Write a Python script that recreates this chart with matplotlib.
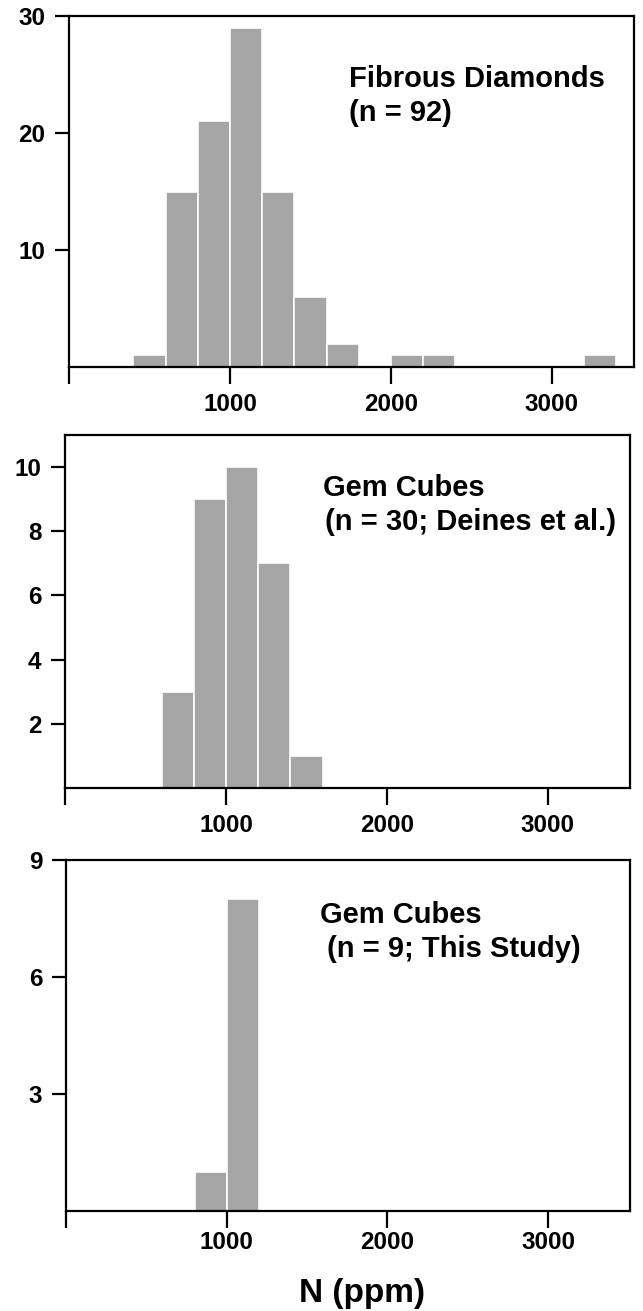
import matplotlib.pyplot as plt

plt.rcParams['font.family'] = ['Liberation Sans', 'DejaVu Sans']
plt.rcParams['font.weight'] = 'bold'

# bin left edges (ppm) and counts
bin_width = 200
fibrous_bins = [400, 600, 800, 1000, 1200, 1400, 1600, 2000, 2200, 3200]
fibrous_counts = [1, 15, 21, 29, 15, 6, 2, 1, 1, 1]
deines_bins = [600, 800, 1000, 1200, 1400]
deines_counts = [3, 9, 10, 7, 1]
study_bins = [800, 1000]
study_counts = [1, 8]

x_ticks = [0, 1000, 2000, 3000]
x_ticklabels = ['', '1000', '2000', '3000']

titles = ['Fibrous Diamonds', 'Gem Cubes', 'Gem Cubes']
subtitles = ['(n = 92)', '(n = 30; Deines et al.)', '(n = 9; This Study)']

# panel layout in pixels: left, right, top, bottom
W, H = 643, 1311
boxes = [(69, 634, 16, 367), (65, 630, 435, 788), (66, 630, 860, 1211)]
# label placement (axes fraction): x1, y1 baseline, x2, y2 baseline
label_pos = [(0.495, 0.798, 0.495, 0.701),
             (0.457, 0.827, 0.460, 0.731),
             (0.450, 0.821, 0.463, 0.724)]
ytick_sets = [[10, 20, 30], [2, 4, 6, 8, 10], [3, 6, 9]]
ymaxes = [30, 11, 9]
xpads = [6.5, 6.5, 2.5]
data = [(fibrous_bins, fibrous_counts), (deines_bins, deines_counts),
        (study_bins, study_counts)]

fig = plt.figure(figsize=(W / 100, H / 100), dpi=100)

for i, (bins, counts) in enumerate(data):
    l, r, t, b = boxes[i]
    ax = fig.add_axes([l / W, 1 - b / H, (r - l) / W, (b - t) / H])
    ax.bar(bins, counts, width=bin_width, align='edge', color='#a5a5a5',
           edgecolor='white', linewidth=1.2, zorder=2)
    ax.set_xlim(0, 3510)
    ax.set_ylim(0, ymaxes[i])
    ax.set_yticks(ytick_sets[i])
    ax.set_xticks(x_ticks)
    ax.set_xticklabels(x_ticklabels)
    for s in ax.spines.values():
        s.set_linewidth(1.6)
    ax.tick_params(axis='y', direction='out', length=10, width=1.6, pad=7, labelsize=17.5)
    ax.tick_params(axis='x', direction='out', length=12, width=1.6, pad=xpads[i], labelsize=17.5)
    for lab in ax.get_xticklabels() + ax.get_yticklabels():
        lab.set_fontweight('bold')
    x1, y1, x2, y2 = label_pos[i]
    ax.text(x1, y1, titles[i], transform=ax.transAxes, ha='left', va='baseline',
            fontsize=21, fontweight='bold')
    ax.text(x2, y2, subtitles[i], transform=ax.transAxes, ha='left', va='baseline',
            fontsize=21, fontweight='bold')

fig.text(362 / W, 9 / H, 'N (ppm)', ha='center', va='baseline',
         fontsize=24, fontweight='bold')

fig.savefig('out.png', dpi=100)
